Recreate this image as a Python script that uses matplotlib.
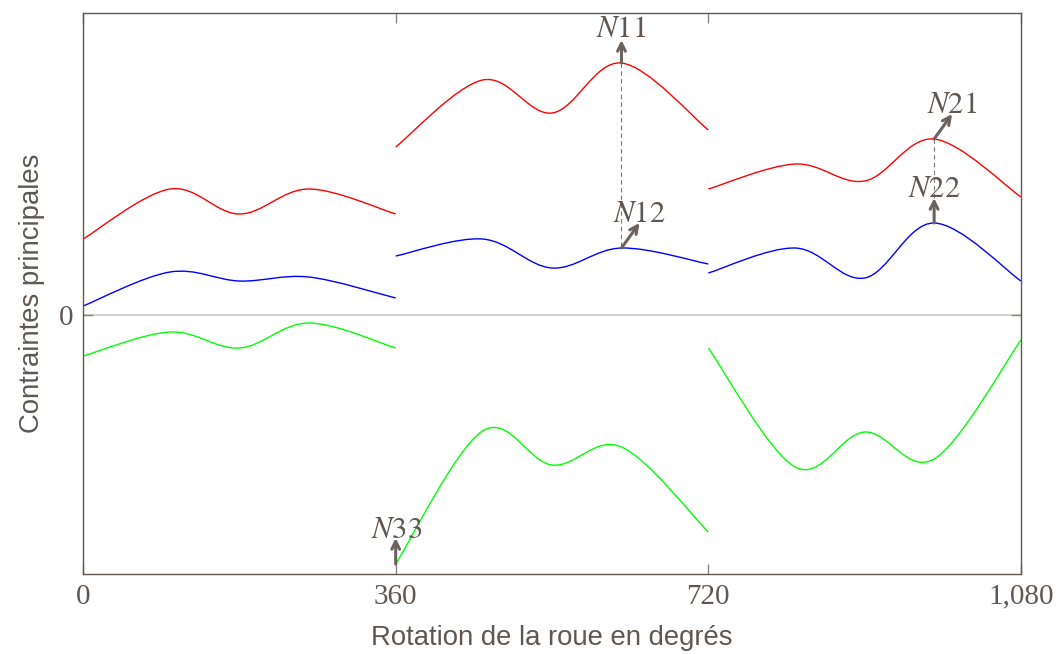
import matplotlib
matplotlib.use("Agg")
import matplotlib.pyplot as plt
import numpy as np
from matplotlib.path import Path
from matplotlib.patches import PathPatch

# abscisses des points de chaque tronçon (degrés)
x1 = [0, 100, 180, 260, 360]
x2 = [360, 460, 540, 620, 720]
x3 = [720, 820, 900, 980, 1080]

# contraintes principales (unités arbitraires)
rouge1 = [7.6, 12.6, 10.1, 12.6, 10.1]
bleu1 = [0.9, 4.3, 3.4, 3.8, 1.7]
vert1 = [-4.1, -1.7, -3.3, -0.8, -3.3]

rouge2 = [16.8, 23.5, 20.2, 25.2, 18.5]
bleu2 = [5.9, 7.6, 4.7, 6.7, 5.1]
vert2 = [-24.9, -11.6, -15.0, -13.2, -21.7]

rouge3 = [12.6, 15.1, 13.4, 17.6, 11.8]
bleu3 = [4.2, 6.7, 3.7, 9.2, 3.4]
vert3 = [-3.3, -15.2, -11.7, -14.4, -2.5]

gris = '#5f5750'
plt.rcParams['mathtext.fontset'] = 'stix'


def courbe_lisse(ax, x, y, couleur, k=0.17):
    # tracé "smooth" façon tikz : bezier cubiques passant par les points
    p = np.column_stack([x, y]).astype(float)
    n = len(p)
    verts = [p[0]]
    codes = [Path.MOVETO]
    for i in range(n - 1):
        a = p[i - 1] if i > 0 else p[i]
        b = p[i + 2] if i + 2 < n else p[i + 1]
        c1 = p[i] + k * (p[i + 1] - a)
        c2 = p[i + 1] - k * (b - p[i])
        verts += [c1, c2, p[i + 1]]
        codes += [Path.CURVE4] * 3
    ax.add_patch(PathPatch(Path(verts, codes), fill=False, edgecolor=couleur, lw=1.0))


fig = plt.figure(figsize=(10.58, 6.54), dpi=100)
ax = fig.add_axes([0.0785, 0.1223, 0.8865, 0.8578])

ax.axhline(0, color='#d3d3d3', lw=1.5, zorder=0)

for xs, r, b, v in [(x1, rouge1, bleu1, vert1), (x2, rouge2, bleu2, vert2), (x3, rouge3, bleu3, vert3)]:
    courbe_lisse(ax, xs, r, 'red')
    courbe_lisse(ax, xs, b, 'blue')
    courbe_lisse(ax, xs, v, '#00ff00')

ax.set_xlim(0, 1080)
ax.set_ylim(-25.9, 30.2)
ax.set_xticks([0, 360, 720, 1080])
ax.set_xticklabels(['0', '360', '720', '1,080'])
ax.set_yticks([0])
ax.set_yticklabels(['0'])

for s in ax.spines.values():
    s.set_color(gris)
    s.set_linewidth(1.0)

ax.tick_params(direction='in', top=True, right=True, length=7.5, width=1.0,
               color='#8a8580', labelcolor=gris, pad=7)
for lab in ax.get_xticklabels() + ax.get_yticklabels():
    lab.set_fontfamily('Liberation Serif')
    lab.set_fontsize(21)

ax.set_xlabel('Rotation de la roue en degrés', fontsize=19.8, color=gris,
              fontfamily='Liberation Sans', labelpad=11)
ax.set_ylabel('Contraintes principales', fontsize=19.8, color=gris,
              fontfamily='Liberation Sans', labelpad=10)

# lignes pointillées entre les maxima
ax.plot([620, 620], [rouge2[3], bleu2[3]], ls=(0, (4, 3)), color='#777777', lw=0.8)
ax.plot([980, 980], [rouge3[3], bleu3[3]], ls=(0, (4, 3)), color='#777777', lw=0.8)

# flèches et noms des points
px_deg = 938 / 1080  # pixels par degré
fleches = [
    (620, rouge2[3], 0, 23, '$N$11', 0, 33),
    (620, bleu2[3], 18, 25, '$N$12', 18, 33),
    (980, rouge3[3], 18, 25, '$N$21', 18, 33),
    (980, bleu3[3], 0, 25, '$N$22', 0, 33),
    (360, vert2[0], 0, 26, '$N$33', 1, 33),
]
for x, y, dx, dy, nom, tx, ty in fleches:
    ax.annotate('', xy=(x + dx / px_deg, y + dy / 10), xytext=(x, y),
                arrowprops=dict(arrowstyle='->', color='#6b635c', lw=2.2,
                                mutation_scale=14, shrinkA=0, shrinkB=0))
    ax.annotate(nom, xy=(x, y), xytext=(tx * 0.72, ty * 0.72), textcoords='offset points',
                ha='center', va='center', fontsize=22, color=gris,
                fontfamily='STIXGeneral')

fig.savefig('out.png', dpi=100)
